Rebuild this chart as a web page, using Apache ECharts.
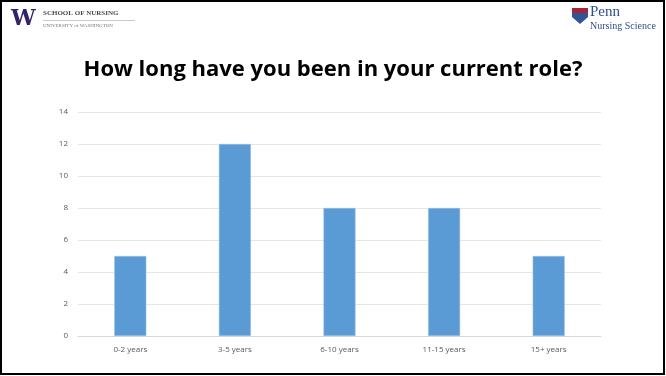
<!DOCTYPE html>
<html><head><meta charset="utf-8">
<script src="https://cdn.jsdelivr.net/npm/echarts@6/dist/echarts.min.js"></script>
<style>html,body{margin:0;padding:0;background:#fff}#c{width:666px;height:376px}</style>
</head><body><div id="c"></div>
<script>
const categories = ['0-2 years', '3-5 years', '6-10 years', '11-15 years', '15+ years'];
const values = [5, 12, 8, 8, 5];
const yTicks = [0, 2, 4, 6, 8, 10, 12, 14];
const titleText = 'How long have you been in your current role?';

const chart = echarts.init(document.getElementById('c'), null, {renderer: 'canvas'});
chart.setOption({
  animation: false,
  backgroundColor: '#fff',
  title: {
    text: titleText, left: 'center', top: 54,
    textStyle: {fontFamily: 'Open Sans', fontWeight: 'bold', fontSize: 22, color: '#000'}
  },
  grid: {left: 78, right: 65, top: 112, bottom: 40},
  xAxis: {
    type: 'category', data: categories,
    axisLine: {lineStyle: {color: '#d9d9d9', width: 1}},
    axisTick: {show: false},
    axisLabel: {color: '#595959', fontSize: 8, fontFamily: 'Open Sans', margin: 10}
  },
  yAxis: {
    type: 'value', min: yTicks[0], max: yTicks[yTicks.length - 1], interval: 2,
    axisLine: {show: false}, axisTick: {show: false},
    splitLine: {lineStyle: {color: '#e6e6e6', width: 1}},
    axisLabel: {color: '#595959', fontSize: 8, fontFamily: 'Open Sans', margin: 10}
  },
  series: [{
    type: 'bar', data: values, barWidth: 32,
    itemStyle: {color: '#5b9bd5', borderColor: '#9dc3e6', borderWidth: 0.5}
  }],
  graphic: [
    {type: 'rect', shape: {x: 1, y: 1, width: 663, height: 373}, style: {fill: 'none', stroke: '#000', lineWidth: 2}, z: 100},
    {type: 'text', left: 11, top: 8, style: {text: 'W', font: '900 22px "DejaVu Serif"', fill: '#33236b'}},
    {type: 'text', left: 43, top: 10, style: {text: 'SCHOOL OF NURSING', font: 'bold 7px "Liberation Serif"', fill: '#4a4a4a'}},
    {type: 'rect', shape: {x: 43, y: 20, width: 92, height: 1}, style: {fill: '#c8c8c8'}},
    {type: 'text', left: 43, top: 23, style: {text: 'UNIVERSITY of WASHINGTON', font: '5px "Liberation Serif"', fill: '#777'}},
    {type: 'rect', shape: {x: 572, y: 8, width: 16, height: 5}, style: {fill: '#a3243b'}},
    {type: 'polygon', shape: {points: [[572, 13], [588, 13], [588, 17], [580, 24], [572, 17]]}, style: {fill: '#2f5597'}},
    {type: 'text', left: 590, top: 5, style: {text: 'Penn', font: '15px "Liberation Serif"', fill: '#2f4e8f'}},
    {type: 'text', left: 590, top: 21, style: {text: 'Nursing Science', font: '10px "Liberation Serif"', fill: '#2f4e8f'}}
  ]
});
</script></body></html>
